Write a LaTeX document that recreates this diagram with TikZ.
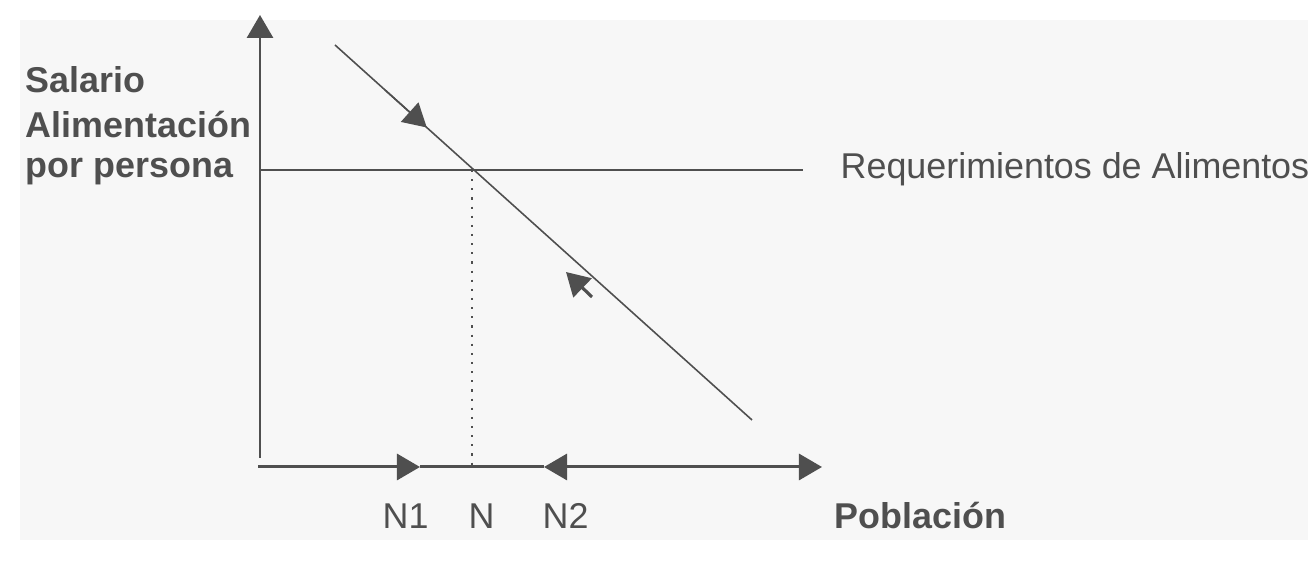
\documentclass[tikz,border=0pt]{standalone}
\usepackage{fontspec}
\setmainfont{Liberation Sans}
\usetikzlibrary{arrows.meta,calc}
\definecolor{ink}{HTML}{4F4F4F}
\definecolor{paper}{HTML}{F7F7F7}
\tikzset{
  tip/.style={-{Triangle[length=0.23cm,width=0.26cm]}},
  axisline/.style={draw=ink, line width=0.85pt},
  lbl/.style={text=ink, inner sep=0pt, font=\fontsize{10.2}{12}\selectfont},
  boldlbl/.style={lbl, font=\bfseries\fontsize{10.2}{12}\selectfont}
}
\begin{document}
\begin{tikzpicture}[x=0.01cm, y=-0.01cm]
\useasboundingbox (0,0) rectangle (1308,577);
\fill[paper] (20,20) rectangle (1308,540);
% axes
\coordinate (ybot) at (260,458);
\coordinate (ytop) at (260,15);
\coordinate (o) at (258,467);
\coordinate (n1) at (420,467);
\coordinate (n2) at (544,467);
\coordinate (xend) at (822,467);
\draw[axisline, tip] (ybot) -- (ytop);
\draw[axisline, tip] (o) -- (n1);
\draw[axisline] (n1) -- (n2);
\draw[axisline, {Triangle[length=0.23cm,width=0.26cm]}-{Triangle[length=0.23cm,width=0.26cm]}] (n2) -- (xend);
% requerimientos de alimentos
\coordinate (rl) at (260,170);
\coordinate (rr) at (803,170);
\draw[draw=ink, line width=0.7pt] (rl) -- (rr);
% salario
\coordinate (dtop) at (335,45);
\coordinate (dbot) at (752,420);
\draw[draw=ink, line width=0.45pt] (dtop) -- (dbot);
\draw[draw=ink, line width=0.45pt, tip] ($(dtop)!0.12!(dbot)$) -- ($(dtop)!0.22!(dbot)$);
\coordinate (lowtail) at (592,297);
\coordinate (lowtip) at (566,272);
\draw[draw=ink, line width=0.9pt, tip] (lowtail) -- (lowtip);
% equilibrio
\coordinate (cross) at (472,170);
\coordinate (crossfoot) at (472,467);
\draw[draw=ink, line width=0.6pt, dotted] (cross) -- (crossfoot);
% textos
\node[boldlbl, anchor=base west] (salario) at (25,93) {Salario};
\node[boldlbl, anchor=base west] (alim) at (25,138) {Alimentación};
\node[boldlbl, anchor=base west] (persona) at (25,178) {por persona};
\node[lbl, anchor=base west] (req) at (840,179) {Requerimientos de Alimentos};
\node[lbl, anchor=base west] (lN1) at (382,529) {N1};
\node[lbl, anchor=base west] (lN) at (468,529) {N};
\node[lbl, anchor=base west] (lN2) at (542,529) {N2};
\node[boldlbl, anchor=base west] (poblacion) at (834,529) {Población};
\end{tikzpicture}
\end{document}
